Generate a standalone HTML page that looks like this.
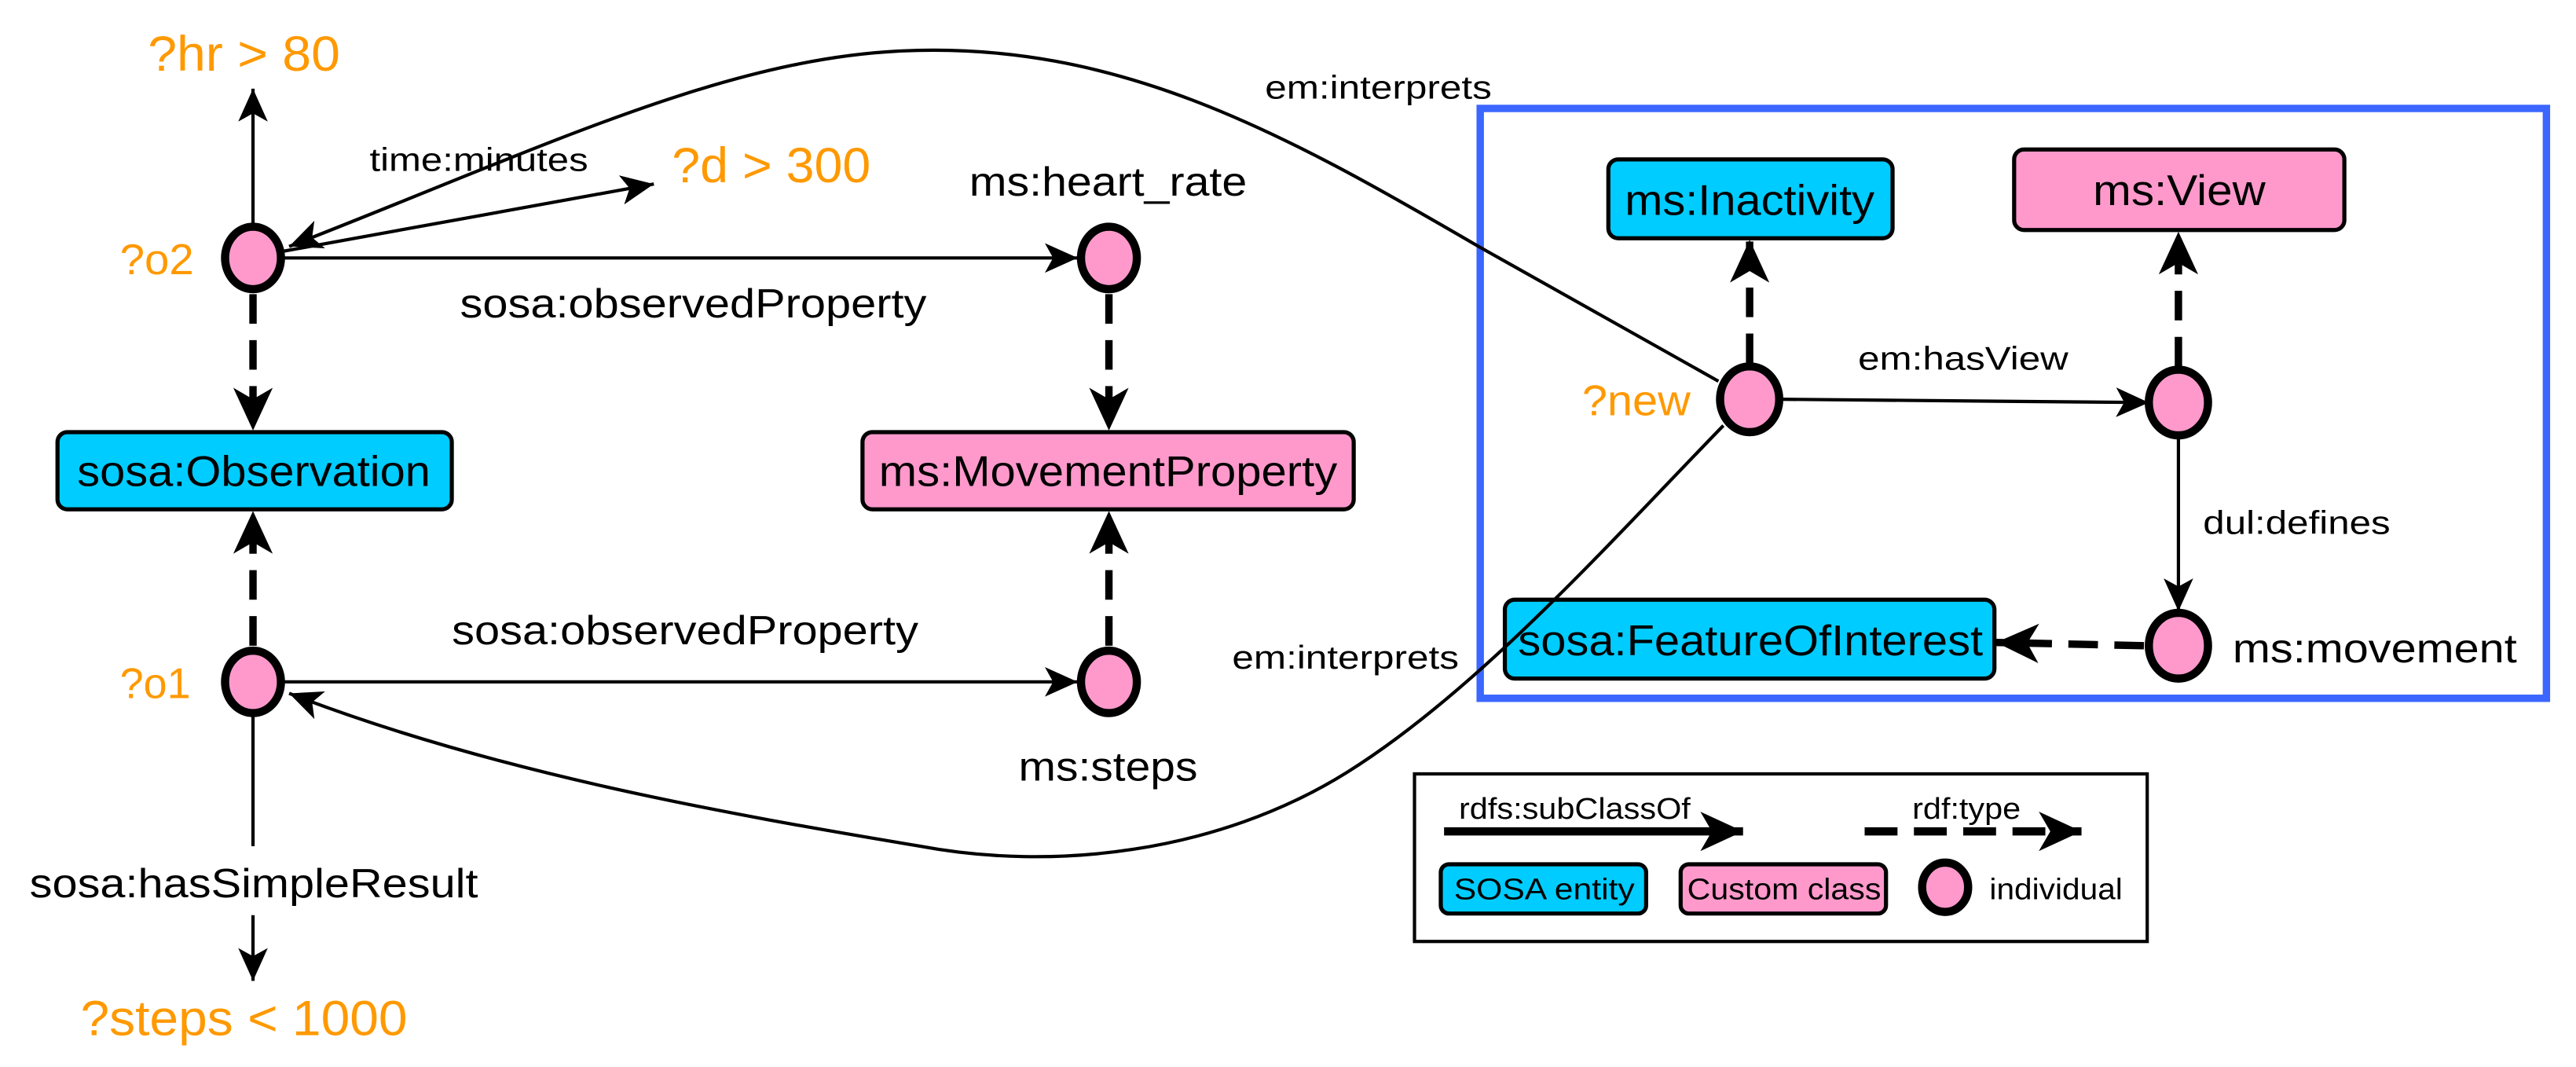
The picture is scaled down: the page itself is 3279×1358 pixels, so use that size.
<!DOCTYPE html>
<html><head><meta charset="utf-8"><style>html,body{margin:0;padding:0;background:#fff}svg{display:block}</style></head>
<body>
<svg width="3279" height="1358" viewBox="0 0 1568 649.4" preserveAspectRatio="none" xmlns="http://www.w3.org/2000/svg" font-family="Liberation Sans, Arial, sans-serif">
<defs>
<marker id="a" markerUnits="userSpaceOnUse" markerWidth="22" markerHeight="18" refX="20" refY="9" orient="auto">
<path d="M0,0 L20,9 L0,18 L5,9 z" fill="#000"/></marker>
<marker id="b" markerUnits="userSpaceOnUse" markerWidth="28" markerHeight="24" refX="26" refY="12" orient="auto">
<path d="M0,0 L26,12 L0,24 L7,12 z" fill="#000"/></marker>
</defs>
<g fill="none" stroke="#000">
<line x1="154" y1="137" x2="154" y2="54" stroke-width="2" marker-end="url(#a)"/>
<line x1="172" y1="153" x2="398" y2="112" stroke-width="2" marker-end="url(#a)"/>
<line x1="172" y1="157" x2="656" y2="157" stroke-width="2" marker-end="url(#a)"/>
<line x1="172" y1="415" x2="656" y2="415" stroke-width="2" marker-end="url(#a)"/>
<line x1="154" y1="436" x2="154" y2="515" stroke-width="2"/>
<line x1="154" y1="557" x2="154" y2="597" stroke-width="2" marker-end="url(#a)"/>
<line x1="1083" y1="243" x2="1308" y2="245" stroke-width="2" marker-end="url(#a)"/>
<line x1="1326" y1="266" x2="1326" y2="372" stroke-width="2" marker-end="url(#a)"/>
<g stroke-width="4.5" stroke-dasharray="18,10">
<line x1="154" y1="179" x2="154" y2="262" marker-end="url(#b)"/>
<line x1="154" y1="393" x2="154" y2="311" marker-end="url(#b)"/>
<line x1="675" y1="179" x2="675" y2="262" marker-end="url(#b)"/>
<line x1="675" y1="393" x2="675" y2="311" marker-end="url(#b)"/>
<line x1="1065" y1="221" x2="1065" y2="146" marker-end="url(#b)"/>
<line x1="1326" y1="223" x2="1326" y2="141" marker-end="url(#b)"/>
<line x1="1305" y1="393" x2="1215" y2="391" marker-end="url(#b)"/>
</g>
<rect x="901" y="66" width="649" height="359" stroke="#3b66ff" stroke-width="4.5"/>
<rect x="861" y="471" width="446" height="102" stroke-width="2"/>
<line x1="879" y1="506" x2="1061" y2="506" stroke-width="5" marker-end="url(#b)"/>
<line x1="1135" y1="506" x2="1267" y2="506" stroke-width="5" stroke-dasharray="20,10" marker-end="url(#b)"/>
</g>
<g stroke="#000" stroke-width="2.5">
<rect x="35" y="263" width="240" height="47" rx="6" fill="#00ccff"/>
<rect x="525" y="263" width="299" height="47" rx="6" fill="#ff99cc"/>
<rect x="979" y="97" width="173" height="48" rx="6" fill="#00ccff"/>
<rect x="1226" y="91" width="201" height="49" rx="6" fill="#ff99cc"/>
<rect x="916" y="365" width="298" height="48" rx="6" fill="#00ccff"/>
<rect x="877" y="526" width="125" height="30" rx="5" fill="#00ccff"/>
<rect x="1023" y="526" width="125" height="30" rx="5" fill="#ff99cc"/>
</g>
<g fill="#ff99cc" stroke="#000" stroke-width="5">
<ellipse cx="154" cy="157" rx="17" ry="19"/>
<ellipse cx="675" cy="157" rx="17" ry="19"/>
<ellipse cx="154" cy="415" rx="17" ry="19"/>
<ellipse cx="675" cy="415" rx="17" ry="19"/>
<ellipse cx="1065" cy="243" rx="18" ry="20"/>
<ellipse cx="1326" cy="245" rx="18" ry="20"/>
<ellipse cx="1326" cy="393" rx="18" ry="20"/>
<ellipse cx="1184" cy="540" rx="14" ry="15"/>
</g>
<g fill="none" stroke="#000">
<path d="M1046,232 L900,150 C780,80 680,25 549,31 C440,36 330,90 176,150" stroke-width="2" marker-end="url(#a)"/>
<path d="M1049,259 C980,330 900,420 820,470 C740,520 640,530 560,515 C440,495 300,470 176,422" stroke-width="2" marker-end="url(#a)"/>
</g>
<g dominant-baseline="central" fill="#000">
<g fill="#ff9900" font-size="30">
<text x="90" y="33" textLength="117" lengthAdjust="spacingAndGlyphs">?hr &gt; 80</text>
<text x="409" y="101" textLength="121" lengthAdjust="spacingAndGlyphs">?d &gt; 300</text>
<text x="49" y="620" textLength="199" lengthAdjust="spacingAndGlyphs">?steps &lt; 1000</text>
</g>
<g fill="#ff9900" font-size="26">
<text x="73" y="158" textLength="45" lengthAdjust="spacingAndGlyphs">?o2</text>
<text x="73" y="416" textLength="43" lengthAdjust="spacingAndGlyphs">?o1</text>
<text x="963" y="244" textLength="66" lengthAdjust="spacingAndGlyphs">?new</text>
</g>
<g font-size="20">
<text x="225" y="97" textLength="133" lengthAdjust="spacingAndGlyphs">time:minutes</text>
<text x="770" y="53" textLength="138" lengthAdjust="spacingAndGlyphs">em:interprets</text>
<text x="750" y="400" textLength="138" lengthAdjust="spacingAndGlyphs">em:interprets</text>
<text x="1131" y="218" textLength="128" lengthAdjust="spacingAndGlyphs">em:hasView</text>
<text x="1341" y="318" textLength="114" lengthAdjust="spacingAndGlyphs">dul:defines</text>
</g>
<g font-size="25">
<text x="280" y="185" textLength="284" lengthAdjust="spacingAndGlyphs">sosa:observedProperty</text>
<text x="275" y="384" textLength="284" lengthAdjust="spacingAndGlyphs">sosa:observedProperty</text>
<text x="590" y="111" textLength="169" lengthAdjust="spacingAndGlyphs">ms:heart_rate</text>
<text x="620" y="467" textLength="109" lengthAdjust="spacingAndGlyphs">ms:steps</text>
<text x="18" y="538" textLength="273" lengthAdjust="spacingAndGlyphs">sosa:hasSimpleResult</text>
<text x="1359" y="395" textLength="173" lengthAdjust="spacingAndGlyphs">ms:movement</text>
</g>
<g font-size="26">
<text x="47" y="287" textLength="215" lengthAdjust="spacingAndGlyphs">sosa:Observation</text>
<text x="535" y="287" textLength="279" lengthAdjust="spacingAndGlyphs">ms:MovementProperty</text>
<text x="989" y="122" textLength="152" lengthAdjust="spacingAndGlyphs">ms:Inactivity</text>
<text x="1274" y="116" textLength="105" lengthAdjust="spacingAndGlyphs">ms:View</text>
<text x="924" y="390" textLength="283" lengthAdjust="spacingAndGlyphs">sosa:FeatureOfInterest</text>
</g>
<g font-size="18">
<text x="888" y="492" textLength="141" lengthAdjust="spacingAndGlyphs">rdfs:subClassOf</text>
<text x="1164" y="492" textLength="66" lengthAdjust="spacingAndGlyphs">rdf:type</text>
<text x="885" y="541" textLength="110" lengthAdjust="spacingAndGlyphs">SOSA entity</text>
<text x="1027" y="541" textLength="118" lengthAdjust="spacingAndGlyphs">Custom class</text>
<text x="1211" y="541" textLength="81" lengthAdjust="spacingAndGlyphs">individual</text>
</g>
</g>
</svg>
</body></html>
